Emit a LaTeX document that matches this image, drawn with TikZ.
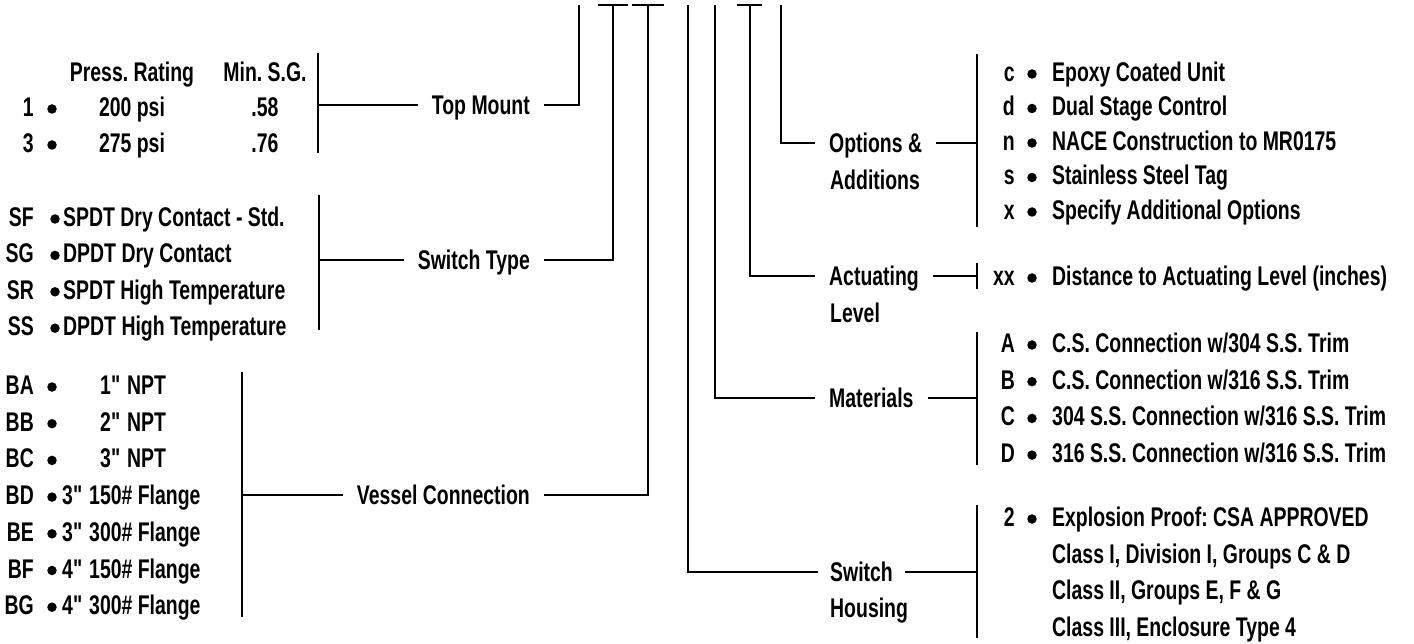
\documentclass[tikz,border=0pt]{standalone}
\usepackage{fontspec}
\setmainfont{Liberation Sans}[FakeStretch=0.72]
\frenchspacing
\newcommand\inch{\textquotedbl\kern-2pt}

\begin{document}
\begin{tikzpicture}[x=1pt,y=-1pt,
  font=\fontsize{27}{36}\selectfont\bfseries,
  every node/.style={inner sep=0pt,text height=19pt,text depth=0pt},
  dot/.style={circle,fill,minimum size=9.5pt,text height=0pt,yshift=-2pt},
  hub/.style={inner xsep=14pt},
  wire/.style={line width=1.6pt}]
\useasboundingbox (0,0) rectangle (1414,644);

% top mount
\node (prh) at (132,72) {Press. Rating};
\node (sgh) at (265,72) {Min. S.G.};
\foreach \c/\p/\g [count=\i from 0] in {1/200/.58,3/275/.76}{
  \node[anchor=east] (tc\i) at (34,107+36*\i) {\c};
  \node[dot] (tb\i) at (52,107+36*\i) {};
  \node (tp\i) at (132,107+36*\i) {\p\ psi};
  \node (tg\i) at (265,107+36*\i) {\g};
}
\draw[wire] (318,53) -- (318,153);
\coordinate (tmb) at (318,105);
\coordinate (tmt) at (579,5);
\node[hub,anchor=east] (topmount) at (544,105) {Top Mount};
\draw[wire] (tmb) -- (topmount.west);
\draw[wire] (topmount.east) -| (tmt);

% switch type
\foreach \c/\t [count=\i from 0] in {SF/SPDT Dry Contact - Std.,SG/DPDT Dry Contact,
    SR/SPDT High Temperature,SS/DPDT High Temperature}{
  \node[anchor=east] (sc\i) at (34,217+36.4*\i) {\c};
  \node[dot] (sb\i) at (55,217+36.4*\i) {};
  \node[anchor=west] (st\i) at (63,217+36.4*\i) {\t};
}
\draw[wire] (319,195) -- (319,330);
\coordinate (stb) at (319,260);
\coordinate (stt) at (613,5);
\node[hub,anchor=east] (switchtype) at (544,260) {Switch Type};
\draw[wire] (stb) -- (switchtype.west);
\draw[wire] (switchtype.east) -| (stt);
\draw[wire] (598,5) -- (628,5);

% vessel connection
\foreach \c/\x/\t [count=\i from 0] in {BA/100/1\inch\ NPT,BB/100/2\inch\ NPT,
    BC/100/3\inch\ NPT,BD/62/3\inch\ 150\# Flange,BE/62/3\inch\ 300\# Flange,
    BF/62/4\inch\ 150\# Flange,BG/62/4\inch\ 300\# Flange}{
  \node[anchor=east] (vc\i) at (34,385+36.7*\i) {\c};
  \node[dot] (vb\i) at (52,385+36.7*\i) {};
  \node[anchor=west] (vt\i) at (\x,385+36.7*\i) {\t};
}
\draw[wire] (242,372) -- (242,617);
\coordinate (vcb) at (242,495);
\coordinate (vct) at (648,5);
\node[hub,anchor=east] (vessel) at (544,495) {Vessel Connection};
\draw[wire] (vcb) -- (vessel.west);
\draw[wire] (vessel.east) -| (vct);
\draw[wire] (632,5) -- (664,5);

% options & additions
\coordinate (opt) at (781,5);
\node[hub,anchor=west] (options) at (815,143) {Options \&};
\node[anchor=west] (options2) at (830,180) {Additions};
\draw[wire] (opt) |- (options.west);
\draw[wire] (977,54) -- (977,227);
\coordinate (opb) at (977,143);
\draw[wire] (options.east) -- (opb);
\foreach \c/\t [count=\i from 0] in {c/Epoxy Coated Unit,d/Dual Stage Control,
    n/NACE Construction to MR0175,s/Stainless Steel Tag,x/Specify Additional Options}{
  \node[anchor=east] (oc\i) at (1015,72+34.5*\i) {\c};
  \node[dot] (ob\i) at (1032,72+34.5*\i) {};
  \node[anchor=west] (ot\i) at (1052,72+34.5*\i) {\t};
}

% actuating level
\coordinate (act) at (750,5);
\node[hub,anchor=west] (actuating) at (815,276) {Actuating};
\node[anchor=west] (actuating2) at (830,313) {Level};
\draw[wire] (act) |- (actuating.west);
\draw[wire] (737,5) -- (762,5);
\draw[wire] (977,263) -- (977,289);
\coordinate (acb) at (977,276);
\draw[wire] (actuating.east) -- (acb);
\node[anchor=east] (ac0) at (1015,276) {xx};
\node[dot] (ab0) at (1032,276) {};
\node[anchor=west] (at0) at (1052,276) {Distance to Actuating Level (inches)};

% materials
\coordinate (mat) at (715,5);
\node[hub,anchor=west] (materials) at (815,398) {Materials};
\draw[wire] (mat) |- (materials.west);
\draw[wire] (977,332) -- (977,465);
\coordinate (mab) at (977,398);
\draw[wire] (materials.east) -- (mab);
\foreach \c/\t [count=\i from 0] in {A/{C.S. Connection w/304 S.S. Trim},B/{C.S. Connection w/316 S.S. Trim},
    C/{304 S.S. Connection w/316 S.S. Trim},D/{316 S.S. Connection w/316 S.S. Trim}}{
  \node[anchor=east] (mc\i) at (1015,343+36.7*\i) {\c};
  \node[dot] (mb\i) at (1032,343+36.7*\i) {};
  \node[anchor=west] (mt\i) at (1052,343+36.7*\i) {\t};
}

% switch housing
\coordinate (hou) at (688,5);
\node[hub,anchor=west,inner xsep=12pt] (housing) at (818,572) {Switch};
\node[anchor=west] (housing2) at (830,608) {Housing};
\draw[wire] (hou) |- (housing.west);
\draw[wire] (977,505) -- (977,638);
\coordinate (hob) at (977,572);
\draw[wire] (housing.east) -- (hob);
\node[anchor=east] (hc0) at (1015,517) {2};
\node[dot] (hb0) at (1032,517) {};
\foreach \t [count=\i from 0] in {Explosion Proof: CSA APPROVED,{Class I, Division I, Groups C \& D},
    {Class II, Groups E, F \& G},{Class III, Enclosure Type 4}}{
  \node[anchor=west] (ht\i) at (1052,517+36.7*\i) {\t};
}
\end{tikzpicture}
\end{document}
